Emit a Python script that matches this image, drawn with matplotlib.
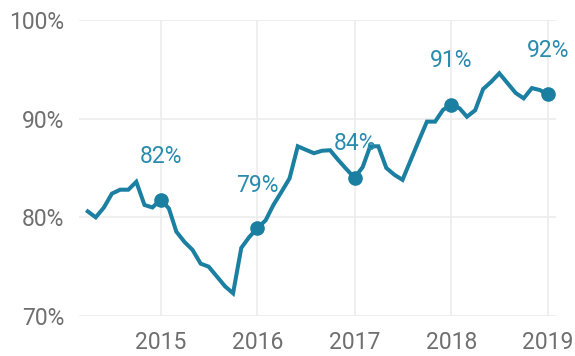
import matplotlib
matplotlib.use("Agg")
import matplotlib.pyplot as plt
import matplotlib.dates as mdates
import pandas as pd

plt.rcParams["font.family"] = ["Roboto", "DejaVu Sans"]

# Monthly share, April 2014 - January 2019 (percent)
start_month = "2014-04-01"
share = [
    80.6, 80.0, 81.0, 82.4, 82.8, 82.8, 83.6, 81.25, 81.0,                 # 2014
    81.8, 80.9, 78.55, 77.5, 76.7, 75.3, 75.0, 74.0, 73.0, 72.3, 76.9, 78.0,  # 2015
    78.9, 79.7, 81.25, 82.6, 83.95, 87.2, 86.85, 86.5, 86.75, 86.8, 85.8, 84.9,  # 2016
    84.0, 85.1, 87.2, 87.2, 85.0, 84.3, 83.8, 85.8, 87.8, 89.7, 89.7, 90.9,  # 2017
    91.4, 91.05, 90.2, 90.85, 93.0, 93.75, 94.6, 93.6, 92.6, 92.06, 93.1, 92.9,  # 2018
    92.45,                                                                  # 2019
]
highlight_years = [2015, 2016, 2017, 2018, 2019]
y_ticks = [70, 80, 90, 100]
y_tick_labels = ["70%", "80%", "90%", "100%"]

dates = pd.date_range(start_month, periods=len(share), freq="MS")
series = pd.Series(share, index=dates)

line_color = "#1b7fa2"
label_color = "#2a8bad"
tick_color = "#6f6f6f"
grid_color = "#ececec"

fig = plt.figure(figsize=(5.75, 3.56), dpi=100)
ax = fig.add_axes([0.1374, 0.1124, 0.8296, 0.8314])

ax.plot(series.index, series.values, color=line_color, lw=2.9,
        solid_joinstyle="miter", zorder=3)

# January points with value labels above them
label_offsets = [31, 31, 25, 32, 32]
for yr, off in zip(highlight_years, label_offsets):
    d = pd.Timestamp(f"{yr}-01-01")
    v = series[d]
    ax.plot([d], [v], "o", color=line_color, ms=9.5, zorder=4)
    ax.annotate(f"{round(v)}%", (d, v), xytext=(0, off), textcoords="offset points",
                ha="center", va="center", fontsize=16.5, color=label_color)

ax.set_ylim(70, 100)
ax.set_yticks(y_ticks)
ax.set_yticklabels(y_tick_labels)
ax.set_xlim(pd.Timestamp("2014-02-27"), pd.Timestamp("2019-01-31"))
ax.set_xticks([pd.Timestamp(f"{y}-01-01") for y in highlight_years])
ax.xaxis.set_major_formatter(mdates.DateFormatter("%Y"))

ax.grid(True, color=grid_color, lw=1.2)
ax.set_axisbelow(True)
for s in ax.spines.values():
    s.set_visible(False)
ax.tick_params(axis="both", length=0, labelsize=16.5, labelcolor=tick_color)
ax.tick_params(axis="x", pad=11)
ax.tick_params(axis="y", pad=10.5)

fig.savefig("out.png", dpi=100, facecolor="white")
